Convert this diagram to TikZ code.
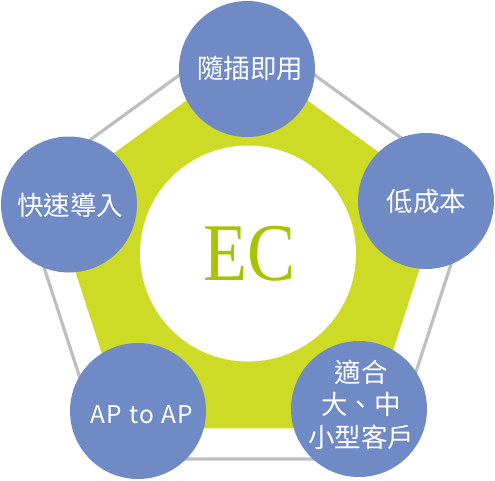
\documentclass[tikz,border=0pt]{standalone}
\usepackage{fontspec}
\usetikzlibrary{calc}
\newfontfamily\cjk{Noto Sans CJK TC}
\newfontfamily\ecfont{Liberation Serif}
\definecolor{bubblec}{HTML}{6F8AC4}
\definecolor{limec}{HTML}{CEDB26}
\definecolor{ecc}{HTML}{A8C400}
\definecolor{rimc}{HTML}{BFBFBF}
\tikzset{
  bubble/.style={circle, fill=bubblec, minimum size=136pt, inner sep=0pt},
  lbl/.style={text=white, font=\cjk\fontsize{26.5}{32.5}\selectfont, align=center, inner sep=0pt},
}
\begin{document}
\begin{tikzpicture}[x=1pt,y=-1pt]
\useasboundingbox (0,0) rectangle (495,480);
% outer gray pentagon
\coordinate (gc) at (247,265.3);
\draw[rimc, line width=3.2pt]
  ($(gc)+(-90:239.4)$) -- ($(gc)+(-18:239.4)$) -- ($(gc)+(54:239.4)$) -- ($(gc)+(126:239.4)$) -- ($(gc)+(198:239.4)$) -- cycle;
% green pentagon
\coordinate (lc) at (247,262);
\fill[limec]
  ($(lc)+(-90:205.5)$) -- ($(lc)+(-18:205.5)$) -- ($(lc)+(54:205.5)$) -- ($(lc)+(126:205.5)$) -- ($(lc)+(198:205.5)$) -- cycle;
% center
\node[circle, fill=white, minimum size=216pt, inner sep=0pt] (core) at (248,253.5) {};
\node[text=ecc, font=\ecfont\fontsize{82}{82}\selectfont, inner sep=0pt, xscale=0.88] (ec) at (249.5,254) {EC};
% bubbles
\node[bubble] (top) at (247,69) {};
\node[bubble] (left) at (69,204.5) {};
\node[bubble] (right) at (426,201) {};
\node[bubble] (bl) at (138,411) {};
\node[bubble] (br) at (359,409) {};
\node[lbl] (ttop) at (250,68) {隨插即用};
\node[lbl] (tleft) at (70,205) {快速導入};
\node[lbl] (tright) at (426.5,201.7) {低成本};
\node[lbl, font=\cjk\fontsize{24.5}{30}\selectfont\addfontfeature{LetterSpace=6}] (tbl) at (142,415) {AP to AP};
\node[lbl] (tbr) at (361,404.5) {適合\\大、中\\小型客戶};
\end{tikzpicture}
\end{document}
